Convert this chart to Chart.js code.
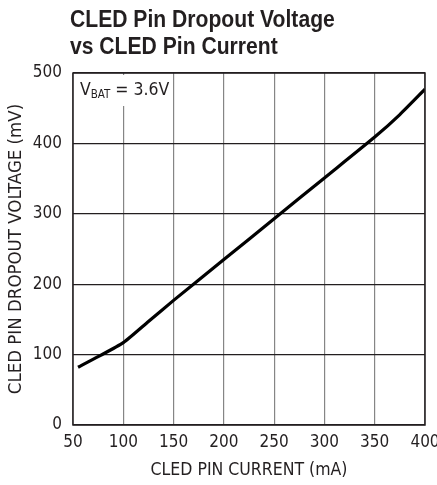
<!DOCTYPE html>
<html>
<head>
<meta charset="utf-8">
<script src="https://cdn.jsdelivr.net/npm/chart.js@4.4.1/dist/chart.umd.min.js"></script>
<style>
  body { margin: 0; background: #fff; }
  #wrap { width: 437px; height: 485px; position: relative; }
</style>
</head>
<body>
<div id="wrap"><canvas id="dropChart"></canvas></div>
<script>
const ctx = document.getElementById('dropChart').getContext('2d');
const narrow = "'DejaVu Sans Condensed', 'Liberation Sans Narrow', sans-serif";

// curve
const currentMA = [55, 75, 100, 125, 150, 200, 250, 300, 350, 375, 400];
const dropoutMV = [82, 97, 117, 147, 177, 235, 293, 351, 409, 441, 477];
const titleLines = ['CLED Pin Dropout Voltage', 'vs CLED Pin Current'];
const xLabel = 'CLED PIN CURRENT (mA)';
const yLabel = 'CLED PIN DROPOUT VOLTAGE (mV)';
const noteMain = 'V', noteSub = 'BAT', noteRest = ' = 3.6V';

var points = currentMA.map((c, i) => { return {x: c, y: dropoutMV[i]} });

// title sits above the plot, flush with its left edge (squeezed like a condensed face)
const headTitle = {
  id: 'headTitle',
  afterDraw(chart) {
    const c = chart.ctx, a = chart.chartArea;
    c.save();
    c.translate(a.left - 3, 0);
    c.scale(0.88, 1);
    c.fillStyle = '#231f20';
    c.font = "bold 24px 'Liberation Sans', Arial, sans-serif";
    c.textBaseline = 'alphabetic';
    c.fillText(titleLines[0], 0, 27);
    c.fillText(titleLines[1], 0, 54);
    c.restore();
  }
};

// white note box in the top-left corner of the grid
const noteBox = {
  id: 'noteBox',
  beforeDatasetsDraw(chart) {
    const c = chart.ctx, a = chart.chartArea;
    c.save();
    c.fillStyle = '#fff';
    c.fillRect(a.left + 2, a.top + 2, 96, 31);
    c.fillStyle = '#231f20';
    c.textBaseline = 'alphabetic';
    let x = a.left + 7;
    c.font = '17.5px ' + narrow;
    c.fillText(noteMain, x, a.top + 22);
    x += c.measureText(noteMain).width;
    c.font = '11.5px ' + narrow;
    c.fillText(noteSub, x, a.top + 25);
    x += c.measureText(noteSub).width;
    c.font = '17.5px ' + narrow;
    c.fillText(noteRest, x, a.top + 22);
    c.restore();
  },
  afterDatasetsDraw(chart) {
    const c = chart.ctx, a = chart.chartArea;
    c.save();
    c.strokeStyle = '#231f20';
    c.lineWidth = 1.5;
    c.strokeRect(a.left, a.top, a.right - a.left, a.bottom - a.top);
    c.restore();
  }
};

var dropChart = new Chart(ctx, {
  type: 'line',
  data: {
    datasets: [{
      data: points,
      borderColor: '#000',
      borderWidth: 3.2,
      pointRadius: 0,
      tension: 0.2,
      fill: false
    }]
  },
  options: {
    responsive: true,
    maintainAspectRatio: false,
    animation: false,
    layout: { padding: { top: 73, right: 12, left: 0, bottom: 0 } },
    plugins: { legend: { display: false }, tooltip: { enabled: false } },
    scales: {
      x: {
        type: 'linear',
        min: 50, max: 400,
        ticks: { stepSize: 50, color: '#231f20', font: { family: narrow, size: 17 }, padding: 7, maxRotation: 0 },
        grid: { color: '#858585', lineWidth: 1.2, drawTicks: false },
        border: { display: false },
        title: { display: true, text: xLabel, color: '#231f20', font: { family: narrow, size: 17.5 }, padding: { top: 2, bottom: 4 } },
        afterFit(s) { s.height = 60; s.paddingLeft = 0; s.paddingRight = 0; }
      },
      y: {
        min: 0, max: 500,
        ticks: { stepSize: 100, color: '#231f20', font: { family: narrow, size: 17 }, padding: 11 },
        grid: { color: '#231f20', lineWidth: 1.2, drawTicks: false },
        border: { display: false },
        title: { display: true, text: yLabel, color: '#231f20', font: { family: narrow, size: 18.5 }, padding: { top: 5, bottom: 2 } },
        afterFit(s) { s.width = 73; }
      }
    }
  },
  plugins: [headTitle, noteBox]
});
</script>
</body>
</html>
